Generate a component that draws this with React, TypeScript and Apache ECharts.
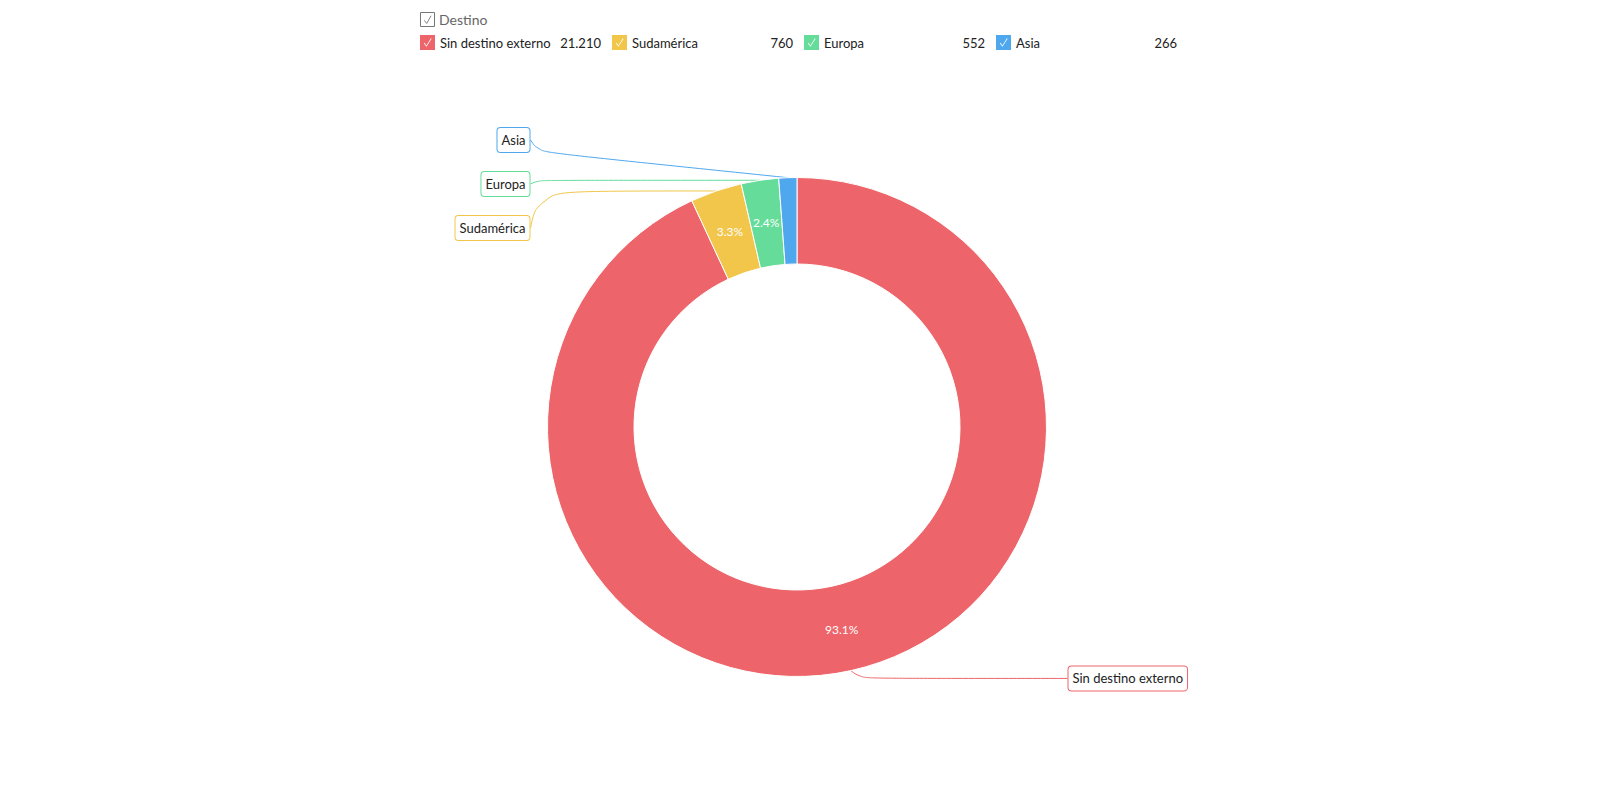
import React, { useEffect, useRef } from "react";
import * as echarts from "echarts";

// ---- data ----
const legendTitle = "Destino";
const categories = ["Sin destino externo", "Sudamérica", "Europa", "Asia"];
const values = [21210, 760, 552, 266];
const colors = ["#ED656A", "#F2C64B", "#66DC9A", "#4FA8EE"];

// ---- layout constants (pixels inside the chart div) ----
const CX = 789;
const CY = 419;
const R_OUT = 249.5;
const R_IN = 163;
const R_PCT = 207;
const LABEL_SPACING = 44;

const fmtThousands = (v: number) =>
  String(v).replace(/\B(?=(\d{3})+(?!\d))/g, ".");

const CHECK_ICON =
  "path://M0,0 L14,0 L14,14 L0,14 Z M3.6,7.8 L6,11 L10.8,3.6 L10.2,3.1 L6,9.8 L4.2,7.3 Z";

function computeLabelLayout() {
  const total = values.reduce((a, b) => a + b, 0);
  let cum = 0;
  const anchors = values.map((v) => {
    const mid = ((cum + v / 2) / total) * Math.PI * 2;
    cum += v;
    return {
      mid,
      x: CX + R_OUT * Math.sin(mid),
      y: CY - R_OUT * Math.cos(mid),
    };
  });
  const out: { x: number; y: number; left: boolean }[] = anchors.map(() => ({
    x: 0,
    y: 0,
    left: false,
  }));
  [true, false].forEach((isLeft) => {
    const idx = anchors
      .map((a, i) => i)
      .filter((i) => (anchors[i].x < CX) === isLeft)
      .sort((a, b) => anchors[a].y - anchors[b].y);
    if (!idx.length) return;
    const n = idx.length;
    const mean = idx.reduce((s, i) => s + anchors[i].y, 0) / n;
    idx.forEach((i, k) => {
      const y =
        n === 1
          ? CY - (R_OUT + 8) * Math.cos(anchors[i].mid)
          : mean + 1 + (k - (n - 1) / 2) * LABEL_SPACING;
      const x = isLeft ? CX - R_OUT - 18 : CX + R_OUT + 22;
      out[i] = { x, y, left: isLeft };
    });
  });
  return { anchors, out };
}

export default function App() {
  const ref = useRef<HTMLDivElement>(null);

  useEffect(() => {
    if (!ref.current) return;
    const chart = echarts.init(ref.current, undefined, { renderer: "svg" });
    const { anchors, out } = computeLabelLayout();

    const mainData = categories.map((name, i) => ({
      name,
      value: values[i],
      itemStyle: { color: colors[i] },
      label: { borderColor: colors[i] },
    }));
    const pctData = categories.map((name, i) => ({ name, value: values[i] }));

    chart.setOption({
      animation: false,
      textStyle: { fontFamily: "Lato, 'Noto Sans', sans-serif" },
      graphic: [
        {
          type: "group",
          x: 412.5,
          y: 4.5,
          children: [
            {
              type: "rect",
              shape: { x: 0, y: 0, width: 14, height: 14 },
              style: { fill: "#fff", stroke: "#777", lineWidth: 1 },
            },
            {
              type: "polyline",
              shape: {
                points: [
                  [3.8, 7.8],
                  [6.2, 11],
                  [10.6, 3.2],
                ],
              },
              style: { stroke: "#888", lineWidth: 1, fill: "none" },
            },
          ],
        },
        {
          type: "text",
          x: 431,
          y: 11.5,
          style: {
            text: legendTitle,
            fontSize: 14,
            fontFamily: "Lato",
            fill: "#666",
            verticalAlign: "middle",
            align: "left",
          },
        },
      ],
      legend: {
        left: 412,
        top: 27,
        padding: 0,
        itemWidth: 15,
        itemHeight: 15,
        itemGap: 11,
        icon: CHECK_ICON,
        itemStyle: { borderWidth: 0 },
        data: categories,
        formatter: (name: string) => {
          const i = categories.indexOf(name);
          return `{n|${name}}{v|${fmtThousands(values[i])}}`;
        },
        textStyle: {
          fontSize: 13,
          color: "#222",
          fontFamily: "Lato",
          rich: {
            n: { width: 109, fontSize: 13, color: "#222", fontFamily: "Lato" },
            v: {
              width: 52,
              align: "right",
              fontSize: 13,
              color: "#222",
              fontFamily: "Lato",
            },
          },
        },
      },
      series: [
        {
          type: "pie",
          center: [CX, CY],
          radius: [R_IN, R_OUT],
          startAngle: 90,
          clockwise: true,
          avoidLabelOverlap: false,
          emphasis: { disabled: true },
          itemStyle: { borderColor: "#fff", borderWidth: 1 },
          label: {
            show: true,
            position: "outside",
            formatter: "{b}",
            fontSize: 13,
            fontFamily: "Lato",
            color: "#222",
            backgroundColor: "#fff",
            borderWidth: 1,
            borderRadius: 3,
            padding: [5, 4],
            lineHeight: 14,
          },
          labelLine: {
            show: true,
            length: 10,
            length2: 10,
            smooth: 0.5,
            lineStyle: { width: 1 },
          },
          labelLayout: (params: any) => {
            const i = params.dataIndex;
            const L = out[i];
            const a = anchors[i];
            const p0 =
              params.labelLinePoints && params.labelLinePoints[0]
                ? params.labelLinePoints[0]
                : [a.x, a.y];
            let p1: number[];
            const p2 = [L.x + (L.left ? 1 : -1), L.y];
            if (L.left) {
              const y1 = Math.min(Math.max(p0[1], L.y - 40), L.y + 12);
              p1 = [L.x + 9, y1];
            } else {
              p1 = [p0[0] + 10, L.y];
            }
            return {
              x: L.x,
              y: L.y,
              align: L.left ? "right" : "left",
              verticalAlign: "middle",
              labelLinePoints: [p0, p1, p2],
            };
          },
          data: mainData,
        },
        {
          type: "pie",
          center: [CX, CY],
          radius: [R_IN, R_OUT],
          startAngle: 90,
          clockwise: true,
          silent: true,
          emphasis: { disabled: true },
          itemStyle: { color: "rgba(0,0,0,0)", borderWidth: 0 },
          label: {
            show: true,
            position: "inside",
            color: "#fff",
            fontSize: 12,
            fontFamily: "Lato",
            formatter: (p: any) =>
              p.percent < 2 ? "" : `${p.percent.toFixed(1)}%`,
          },
          labelLayout: (params: any) => {
            const a = anchors[params.dataIndex];
            return {
              x: CX + R_PCT * Math.sin(a.mid),
              y: CY - R_PCT * Math.cos(a.mid),
              align: "center",
              verticalAlign: "middle",
            };
          },
          labelLine: { show: false },
          data: pctData,
        },
      ],
    });

    return () => chart.dispose();
  }, []);

  return <div ref={ref} style={{ width: "100%", height: 769 }} />;
}
